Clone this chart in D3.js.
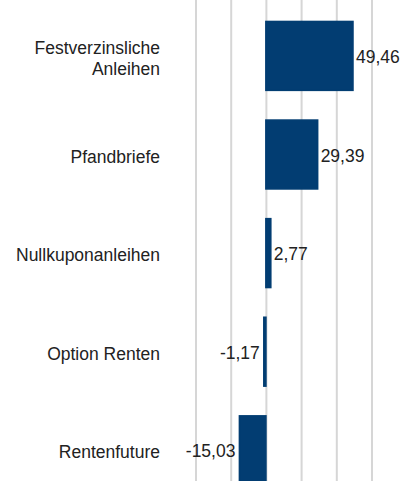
<!DOCTYPE html>
<html>
<head>
<meta charset="utf-8">
<script src="https://cdn.jsdelivr.net/npm/d3@7"></script>
<style>
  html, body { margin: 0; padding: 0; background: #fff; }
  svg { display: block; }
  text { font-family: "Liberation Sans", Arial, sans-serif; fill: #222; }
</style>
</head>
<body>
<script>
// Chart data
const categories = [["Festverzinsliche", "Anleihen"], ["Pfandbriefe"], ["Nullkuponanleihen"], ["Option Renten"], ["Rentenfuture"]];
const values = [49.46, 29.39, 2.77, -1.17, -15.03];
const valueLabels = ["49,46", "29,39", "2,77", "-1,17", "-15,03"];
const gridTicks = [-40, -20, 0, 20, 40, 60];

const width = 402, height = 481;

const svg = d3.select("body").append("svg")
    .attr("width", width)
    .attr("height", height);

// x scale: values to horizontal pixels
const x = d3.scaleLinear()
    .domain([-40, 60])
    .range([195.5, 371.5]);

// y scale: one band per category, last band runs off the bottom
const y = d3.scaleBand()
    .domain(d3.range(categories.length))
    .range([0, 506.2])
    .paddingInner(0.302)
    .paddingOuter(0.218);

// vertical gridlines
svg.append("g")
    .attr("class", "grid")
    .attr("transform", `translate(0, ${height})`)
    .call(d3.axisBottom(x).tickValues(gridTicks).tickSize(-height).tickFormat(""))
    .call(g => g.select(".domain").remove())
    .call(g => g.selectAll("line").attr("stroke", "#d6d6d6").attr("stroke-width", 2));

// bars (thin stroke in the same colour, like the original)
svg.selectAll("rect.bar")
    .data(values)
    .enter()
    .append("rect")
    .attr("class", "bar")
    .attr("x", d => x(Math.min(0, d)))
    .attr("y", (d, i) => y(i))
    .attr("width", d => Math.abs(x(d) - x(0)))
    .attr("height", y.bandwidth())
    .attr("fill", "#023d72")
    .attr("stroke", "#023d72")
    .attr("stroke-width", 1.6);

// value labels
svg.selectAll("text.value")
    .data(values)
    .enter()
    .append("text")
    .attr("class", "value")
    .attr("x", d => d >= 0 ? x(d) + 3 : x(d) - 4)
    .attr("y", (d, i) => y(i) + y.bandwidth() / 2 + 1)
    .attr("dy", "0.35em")
    .attr("text-anchor", d => d >= 0 ? "start" : "end")
    .style("font-size", "17.5px")
    .text((d, i) => valueLabels[i]);

// category labels
const catLabels = svg.selectAll("text.cat")
    .data(categories)
    .enter()
    .append("text")
    .attr("class", "cat")
    .attr("text-anchor", "end")
    .style("font-size", "17.5px")
    .attr("transform", (d, i) => `translate(160, ${y(i) + y.bandwidth() / 2 + 2})`);

catLabels.selectAll("tspan")
    .data(d => d.map((line, j) => ({ line, j, n: d.length })))
    .enter()
    .append("tspan")
    .attr("x", 0)
    .attr("y", d => (d.j - (d.n - 1) / 2) * 21)
    .attr("dy", "0.35em")
    .text(d => d.line);
</script>
</body>
</html>
